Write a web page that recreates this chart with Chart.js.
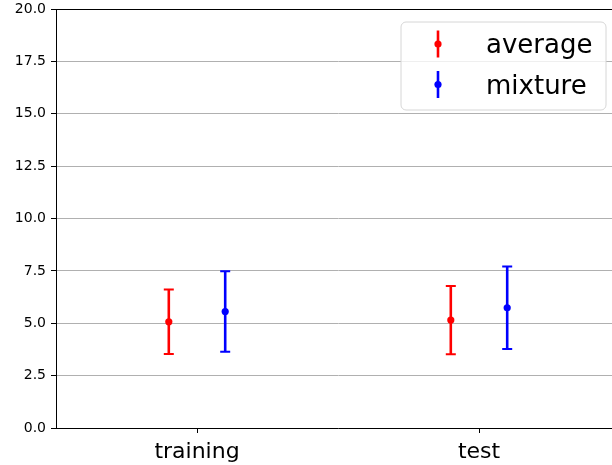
<!DOCTYPE html>
<html>
<head>
<meta charset="utf-8">
<script src="https://cdn.jsdelivr.net/npm/chart.js@4/dist/chart.umd.min.js"></script>
<style>
  html, body { margin: 0; padding: 0; background: #fff; overflow: hidden; width: 612px; height: 465px; }
  /* the original axes run slightly past the right edge of the picture */
  #wrap { position: absolute; left: 0; top: 0; width: 612px; height: 465px; overflow: hidden; }
  #c { position: absolute; left: 0; top: 0; }
</style>
</head>
<body>
<div id="wrap"><canvas id="c" width="640" height="465"></canvas></div>
<script>
// ---- data ----
const categories = ['training', 'test'];
const averageMeans = [5.07, 5.15];
const averageErrors = [1.54, 1.63];
const mixtureMeans = [5.56, 5.74];
const mixtureErrors = [1.92, 1.97];
const yTicks = [0, 2.5, 5, 7.5, 10, 12.5, 15, 17.5, 20];

const OFFSET = 0.1;
const FONT = 'DejaVu Sans';

function pts(means, shift) {
  return means.map((m, i) => ({ x: i + shift, y: m }));
}

const errorBarPlugin = {
  id: 'errorBars',
  beforeDatasetsDraw(chart) {
    const ctx = chart.ctx;
    const xs = chart.scales.x, ys = chart.scales.y;
    chart.data.datasets.forEach((ds) => {
      if (!ds.errors) return;
      ctx.save();
      ctx.strokeStyle = ds.borderColor;
      ds.data.forEach((p, i) => {
        const px = xs.getPixelForValue(p.x);
        const top = ys.getPixelForValue(p.y + ds.errors[i]);
        const bot = ys.getPixelForValue(p.y - ds.errors[i]);
        ctx.lineWidth = 2.6;
        ctx.beginPath();
        ctx.moveTo(px, top); ctx.lineTo(px, bot);
        ctx.stroke();
        ctx.lineWidth = 2;
        ctx.beginPath();
        ctx.moveTo(px - 5, top); ctx.lineTo(px + 5, top);
        ctx.moveTo(px - 5, bot); ctx.lineTo(px + 5, bot);
        ctx.stroke();
      });
      ctx.restore();
    });
  }
};

const framePlugin = {
  id: 'frame',
  afterDraw(chart) {
    const ctx = chart.ctx, a = chart.chartArea, xs = chart.scales.x;
    ctx.save();
    ctx.strokeStyle = '#000';
    ctx.lineWidth = 1;
    ctx.beginPath();
    // top spine
    ctx.moveTo(a.left, a.top + 0.5); ctx.lineTo(a.right, a.top + 0.5);
    // x tick marks
    xs.ticks.forEach((t) => {
      const px = Math.round(xs.getPixelForValue(t.value)) + 0.5;
      ctx.moveTo(px, a.bottom); ctx.lineTo(px, a.bottom + 5);
    });
    ctx.stroke();

    // legend
    const bx = 401, by = 22, bw = 205, bh = 88, r = 5;
    ctx.beginPath();
    ctx.moveTo(bx + r, by);
    ctx.arcTo(bx + bw, by, bx + bw, by + bh, r);
    ctx.arcTo(bx + bw, by + bh, bx, by + bh, r);
    ctx.arcTo(bx, by + bh, bx, by, r);
    ctx.arcTo(bx, by, bx + bw, by, r);
    ctx.closePath();
    ctx.fillStyle = 'rgba(255,255,255,0.8)';
    ctx.fill();
    ctx.strokeStyle = '#d6d6d6';
    ctx.lineWidth = 1;
    ctx.stroke();

    const rows = [44, 84.5];
    chart.data.datasets.forEach((ds, i) => {
      const cy = rows[i];
      const hx = 438;
      ctx.strokeStyle = ds.borderColor;
      ctx.fillStyle = ds.backgroundColor;
      ctx.lineWidth = 2.6;
      ctx.beginPath();
      ctx.moveTo(hx, cy - 13.5); ctx.lineTo(hx, cy + 13.5);
      ctx.stroke();
      ctx.beginPath();
      ctx.arc(hx, cy, 3.6, 0, Math.PI * 2);
      ctx.fill();
      ctx.fillStyle = '#000';
      ctx.font = '26px "' + FONT + '"';
      ctx.textBaseline = 'alphabetic';
      ctx.textAlign = 'left';
      ctx.fillText(ds.label, 486, cy + 9);
    });
    ctx.restore();
  }
};

new Chart(document.getElementById('c'), {
  type: 'scatter',
  data: {
    datasets: [
      { label: 'average', data: pts(averageMeans, -OFFSET), errors: averageErrors,
        borderColor: '#ff0000', backgroundColor: '#ff0000', pointRadius: 3.6, pointBorderWidth: 0 },
      { label: 'mixture', data: pts(mixtureMeans, OFFSET), errors: mixtureErrors,
        borderColor: '#0000ff', backgroundColor: '#0000ff', pointRadius: 3.6, pointBorderWidth: 0 }
    ]
  },
  options: {
    responsive: false,
    animation: false,
    devicePixelRatio: 1,
    layout: { padding: { left: 0, top: 9, right: 20, bottom: 0 } },
    plugins: { legend: { display: false }, tooltip: { enabled: false } },
    scales: {
      x: {
        type: 'linear', min: -0.5, max: 1.5,
        afterBuildTicks(s) { s.ticks = categories.map((c, i) => ({ value: i })); },
        afterFit(s) { s.height = 37; s.paddingLeft = 0; s.paddingRight = 0; },
        ticks: { callback: (v) => categories[v], color: '#000', font: { family: FONT, size: 22 }, padding: 3, maxRotation: 0 },
        grid: { display: false },
        border: { color: '#000', width: 1 }
      },
      y: {
        min: 0, max: 20,
        afterBuildTicks(s) { s.ticks = yTicks.map(v => ({ value: v })); },
        afterFit(s) { s.width = 56; s.paddingTop = 0; s.paddingBottom = 0; },
        ticks: { callback: (v) => v.toFixed(1), color: '#000', font: { family: FONT, size: 14 }, padding: 5 },
        grid: { color: '#b0b0b0', lineWidth: 1, tickLength: 5, tickColor: '#000', tickWidth: 1 },
        border: { color: '#000', width: 1 }
      }
    }
  },
  plugins: [errorBarPlugin, framePlugin]
});
</script>
</body>
</html>
